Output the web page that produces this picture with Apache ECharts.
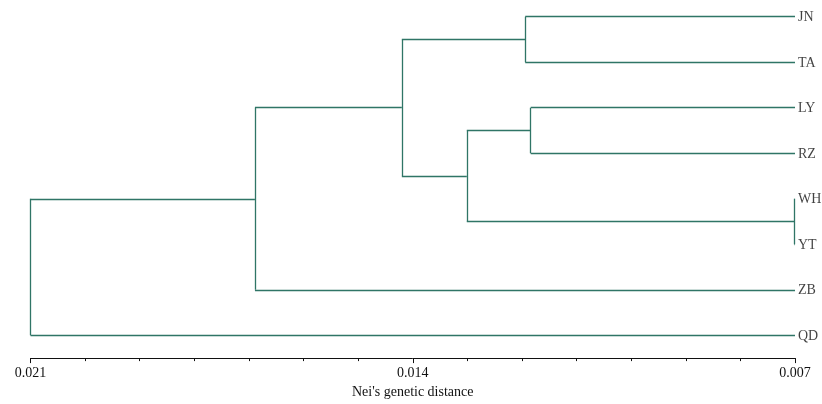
<!DOCTYPE html>
<html>
<head>
<meta charset="utf-8">
<script src="https://cdn.jsdelivr.net/npm/echarts@6/dist/echarts.min.js"></script>
<style>html,body{margin:0;padding:0;background:#fff}#c{width:822px;height:404px}</style>
</head>
<body>
<div id="c"></div>
<script>
// Leaves (top to bottom) and their distance
var leaves = ['JN', 'TA', 'LY', 'RZ', 'WH', 'YT', 'ZB', 'QD'];
var leafHeight = [0.007, 0.007, 0.007, 0.007, 0.007, 0.007, 0.007, 0.007];
// Merges: [childA, childB, height]; nodes 0-7 are leaves, merges are numbered 8, 9, ...
var mergeA = [0, 2, 4, 9, 8, 12, 13];
var mergeB = [1, 3, 5, 10, 11, 6, 7];
var mergeHeight = [0.01194, 0.01184, 0.00701, 0.01301, 0.01420, 0.01689, 0.02100];
// Axis ticks
var axisMin = 0.007, axisMax = 0.021, axisInterval = 0.007;
var tickLabels = ['0.007', '0.014', '0.021'];

var nodeX = leafHeight.slice();
var nodeY = leaves.map(function (_, i) { return i; });
var segments = [];
for (var m = 0; m < mergeA.length; m++) {
  var a = mergeA[m], b = mergeB[m], h = mergeHeight[m];
  segments.push({coords: [[h, nodeY[a]], [h, nodeY[b]]]});
  segments.push({coords: [[h, nodeY[a]], [nodeX[a], nodeY[a]]]});
  segments.push({coords: [[h, nodeY[b]], [nodeX[b], nodeY[b]]]});
  nodeX.push(h);
  nodeY.push((nodeY[a] + nodeY[b]) / 2);
}
var leafPoints = leaves.map(function (n, i) { return {value: [leafHeight[i], i], name: n}; });

var serif = "'Liberation Serif', 'Times New Roman', serif";
var chart = echarts.init(document.getElementById('c'));
chart.setOption({
  animation: false,
  grid: {left: 30.5, right: 27, top: 3, bottom: 43},
  xAxis: {
    type: 'value', position: 'bottom', inverse: true, min: axisMin, max: axisMax, interval: axisInterval,
    name: "Nei's genetic distance", nameLocation: 'middle', nameGap: 26,
    nameTextStyle: {fontFamily: serif, fontSize: 14, color: '#111'},
    splitLine: {show: false},
    axisLine: {onZero: false, lineStyle: {color: '#111', width: 1}},
    axisTick: {show: true, length: 5, lineStyle: {color: '#111'}},
    minorTick: {show: true, splitNumber: 7, length: 3, lineStyle: {color: '#111'}},
    axisLabel: {
      margin: 8, fontFamily: serif, fontSize: 14, color: '#111',
      formatter: function (v) {
        var idx = Math.round((v - axisMin) / axisInterval);
        return tickLabels[idx] || '';
      }
    }
  },
  yAxis: {
    type: 'value', inverse: true, min: -0.3, max: 7.5, show: false
  },
  series: [
    {
      type: 'lines', coordinateSystem: 'cartesian2d', polyline: false, silent: true,
      lineStyle: {color: '#2f7566', width: 1.3, opacity: 1},
      data: segments
    },
    {
      type: 'scatter', symbolSize: 0, silent: true,
      label: {show: true, position: 'right', distance: 3, offset: [0, 1], formatter: '{b}',
        fontFamily: serif, fontSize: 14, color: '#111'},
      data: leafPoints
    }
  ]
});
</script>
</body>
</html>
